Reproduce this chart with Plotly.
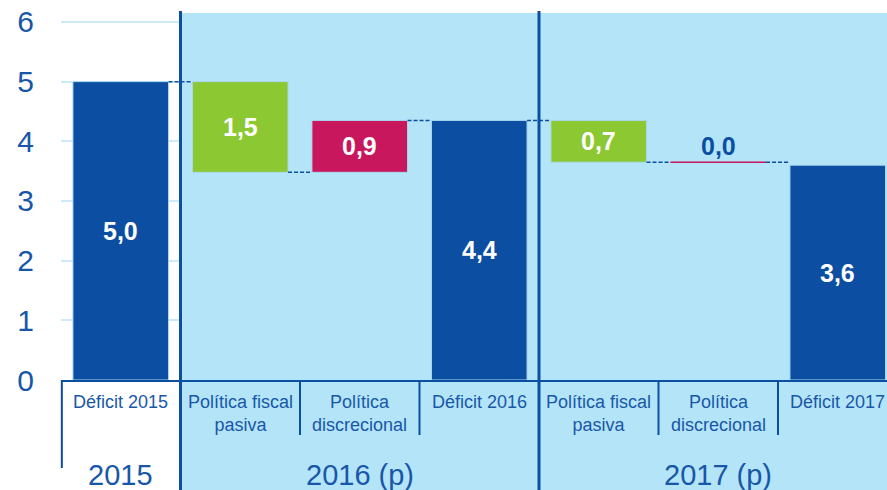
import plotly.graph_objects as go

categorias = ["Déficit 2015", "Política fiscal<br>pasiva", "Política<br>discrecional", "Déficit 2016",
              "Política fiscal<br>pasiva", "Política<br>discrecional", "Déficit 2017"]
grupos = ["2015", "2016 (p)", "2017 (p)"]
grupo_centro = [0, 2, 5]
etiquetas = ["5,0", "1,5", "0,9", "4,4", "0,7", "0,0", "3,6"]
base = [0, 3.48, 3.48, 0, 3.65, 3.65, 0]
tope = [5.0, 5.0, 4.35, 4.35, 4.35, 3.65, 3.6]
tipo = ["total", "pasiva", "discrecional", "total", "pasiva", "discrecional", "total"]
conector = [5.0, 3.48, 4.35, 4.35, 3.65, 3.65]

AZUL = "#0b4ea2"
TEXTO = "#1857a8"
CELESTE = "#b4e4f8"
colores = {"total": AZUL, "pasiva": "#8cc832", "discrecional": "#c8175d"}

H = 367  # plot height in px
W_BAR = 0.8
YMAX = 6.15

fig = go.Figure()
x = list(range(len(categorias)))
fig.add_trace(go.Bar(x=x, y=[t - b for t, b in zip(tope, base)], base=base, width=W_BAR,
                     marker=dict(color=[colores[t] for t in tipo], line=dict(color="#a9d8ef", width=1)),
                     hoverinfo="skip"))

# zero-height changes drawn as a thin line
for i in x:
    if tope[i] == base[i]:
        fig.add_trace(go.Scatter(x=[i - W_BAR / 2, i + W_BAR / 2], y=[base[i], base[i]], mode="lines",
                                 line=dict(color=colores[tipo[i]], width=1.5), hoverinfo="skip"))

shapes = []
# light blue projection area (inside plot covers gridlines, below plot fills to the bottom)
shapes.append(dict(type="rect", xref="x", yref="y", x0=0.5, x1=7, y0=0, y1=YMAX,
                   fillcolor=CELESTE, line=dict(width=0), layer="between"))
shapes.append(dict(type="rect", xref="x", yref="paper", x0=0.5, x1=7, y0=-110 / H, y1=0,
                   fillcolor=CELESTE, line=dict(width=0), layer="below"))
# connectors
for i, lv in enumerate(conector):
    shapes.append(dict(type="line", xref="x", yref="y", x0=i + W_BAR / 2, x1=i + 1 - W_BAR / 2, y0=lv, y1=lv,
                       line=dict(color=AZUL, width=1.5, dash="4px,2px"), layer="above"))
# category dividers
for k in [1.5, 2.5, 4.5, 5.5]:
    shapes.append(dict(type="line", xref="x", yref="paper", x0=k, x1=k, y0=0, y1=-55 / H,
                       line=dict(color=AZUL, width=2)))
shapes.append(dict(type="line", xref="paper", yref="paper", x0=0.001, x1=0.001, y0=0, y1=-88 / H,
                   line=dict(color=AZUL, width=2)))
# year separators
for k in [0.5, 3.5]:
    shapes.append(dict(type="line", xref="x", yref="paper", x0=k, x1=k, y0=-110 / H, y1=1 + 2 / H,
                       line=dict(color=AZUL, width=3), layer="above"))

ann = []
for i in x:
    if tope[i] == base[i]:
        ann.append(dict(x=i, y=base[i], yshift=16, text="<b>%s</b>" % etiquetas[i], showarrow=False,
                        font=dict(size=25, color=AZUL)))
    else:
        ann.append(dict(x=i, y=(tope[i] + base[i]) / 2, text="<b>%s</b>" % etiquetas[i], showarrow=False,
                        font=dict(size=25, color="white")))
    ann.append(dict(x=i, xref="x", yref="paper", y=-10 / H, yanchor="top", text=categorias[i],
                    showarrow=False, font=dict(size=18, color=TEXTO)))
for g, c in zip(grupos, grupo_centro):
    ann.append(dict(x=c, xref="x", yref="paper", y=-95 / H, yanchor="middle", text=g,
                    showarrow=False, font=dict(size=29, color=TEXTO)))

fig.update_layout(
    width=887, height=490,
    margin=dict(l=61, r=0, t=13, b=110),
    paper_bgcolor="white", plot_bgcolor="white",
    font=dict(family="Liberation Sans, Arial, sans-serif"),
    showlegend=False,
    shapes=shapes, annotations=ann,
    xaxis=dict(range=[-0.5, -0.5 + 826 / 119.5], showticklabels=False, showgrid=False, zeroline=False,
               showline=True, linecolor=AZUL, linewidth=2, ticks=""),
    yaxis=dict(range=[0, YMAX], dtick=1, showgrid=True, gridcolor="#cdeaf8", gridwidth=1.5, zeroline=False,
               tickfont=dict(size=30, color=TEXTO), ticks="", ticklabelstandoff=26,
               ticklabeloverflow="allow"),
)

# drop the default page margin so the figure fills the window exactly
fig.write_html("out.html", config={"displayModeBar": False},
               post_script="document.body.style.margin='0';document.body.style.overflow='hidden';")
